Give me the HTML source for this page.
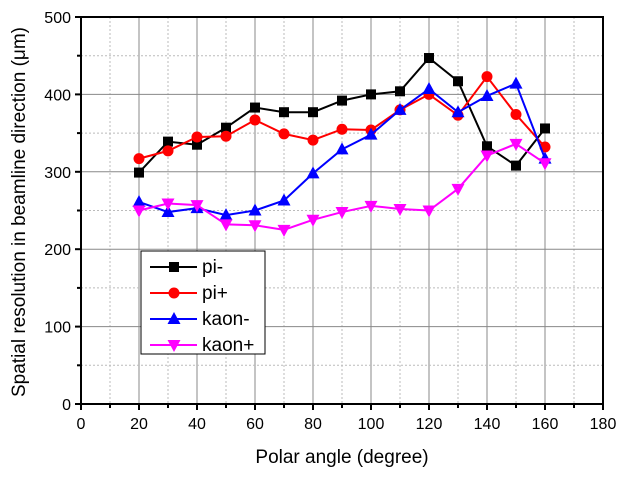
<!DOCTYPE html>
<html><head><meta charset="utf-8"><style>
body{margin:0;background:#fff}
text{font-family:"Liberation Sans",Arial,sans-serif}
</style></head><body>
<svg id="chart" width="623" height="474" xmlns="http://www.w3.org/2000/svg">
<g id="grid"></g>
<g id="axes"></g>
<g id="series"></g>
<text x="342" y="463" text-anchor="middle" font-size="19">Polar angle (degree)</text>
<text transform="translate(25,212) rotate(-90)" text-anchor="middle" font-size="19">Spatial resolution in beamline direction (μm)</text>
<g id="legend"></g>
</svg>
<script>
const angles=[20,30,40,50,60,70,80,90,100,110,120,130,140,150,160];
const piMinus=[299,339,335,357,383,377,377,392,400,404,447,417,333,308,356];
const piPlus=[317,327,345,346,367,349,341,355,354,380,400,373,423,374,332];
const kaonMinus=[261,248,253,244,250,263,298,329,348,380,407,377,398,414,317];
const kaonPlus=[250,259,257,232,231,225,238,248,256,252,250,278,321,336,311];
const xTicks=[0,20,40,60,80,100,120,140,160,180];
const yTicks=[0,100,200,300,400,500];
const seriesNames=["pi-","pi+","kaon-","kaon+"];
const NS="http://www.w3.org/2000/svg";
const X0=81,X1=603,Y0=404,Y1=17;
const sx=v=>X0+(v-0)/180*(X1-X0);
const sy=v=>Y0-(v/500)*(Y0-Y1);
function mk(tag,attrs,parent){const e=document.createElementNS(NS,tag);for(const k in attrs)e.setAttribute(k,attrs[k]);parent.appendChild(e);return e;}
const grid=document.getElementById('grid'),axes=document.getElementById('axes'),ser=document.getElementById('series'),leg=document.getElementById('legend');
for(let v=10;v<180;v+=10){const major=v%20===0;const l=mk('line',{x1:sx(v),x2:sx(v),y1:Y1,y2:Y0,stroke:major?'#888':'#bbb','stroke-width':1,'stroke-dasharray':major?'':'2,2'},grid);

}
for(let v=50;v<500;v+=50){const major=v%100===0;const l=mk('line',{x1:X0,x2:X1,y1:sy(v),y2:sy(v),stroke:major?'#888':'#bbb','stroke-width':1,'stroke-dasharray':major?'':'2,2'},grid);

}
const fr=mk('rect',{x:X0,y:Y1,width:X1-X0,height:Y0-Y1,fill:'none',stroke:'#000','stroke-width':2},axes);


for(let v=0;v<=180;v+=10){const l=mk('line',{x1:sx(v),x2:sx(v),y1:Y0,y2:Y0+(v%20===0?6:4),stroke:'#000','stroke-width':2},axes);

}
xTicks.forEach(v=>{const t=mk('text',{x:sx(v),y:Y0+25,'text-anchor':'middle','font-size':16},axes);t.textContent=v;

});
for(let v=0;v<=500;v+=50){const l=mk('line',{x1:X0,x2:X0-(v%100===0?6:4),y1:sy(v),y2:sy(v),stroke:'#000','stroke-width':2},axes);

}
yTicks.forEach(v=>{const t=mk('text',{x:X0-10,y:sy(v)+6,'text-anchor':'end','font-size':16},axes);t.textContent=v;

});
function marker(type,x,y,c,p){let e;
if(type==='sq')e=mk('rect',{x:x-5,y:y-5,width:10,height:10,fill:c},p);
else if(type==='ci')e=mk('circle',{cx:x,cy:y,r:5.5,fill:c},p);
else if(type==='up')e=mk('polygon',{points:`${x},${y-7} ${x-6.5},${y+5} ${x+6.5},${y+5}`,fill:c},p);
else e=mk('polygon',{points:`${x},${y+7} ${x-6.5},${y-5} ${x+6.5},${y-5}`,fill:c},p);
return e;}
const all=[[piMinus,'#000','sq'],[piPlus,'#f00','ci'],[kaonMinus,'#00f','up'],[kaonPlus,'#f0f','dn']];
all.forEach(([d,c,m],i)=>{const g=mk('g',{},ser);


const pl=mk('polyline',{points:d.map((v,j)=>sx(angles[j])+','+sy(v)).join(' '),fill:'none',stroke:c,'stroke-width':2},g);


d.forEach((v,j)=>{const mm=marker(m,sx(angles[j]),sy(v),c,g);

});});
const lb=mk('rect',{x:141,y:251,width:124,height:103,fill:'#fff',stroke:'#000','stroke-width':1},leg);


all.forEach(([d,c,m],i)=>{const y=267+i*26;const g=mk('g',{},leg);


mk('line',{x1:150,x2:197,y1:y,y2:y,stroke:c,'stroke-width':2},g);
marker(m,174,y,c,g);
const t=mk('text',{x:202,y:y+6,'font-size':19},g);t.textContent=seriesNames[i];});
</script>
</body></html>
